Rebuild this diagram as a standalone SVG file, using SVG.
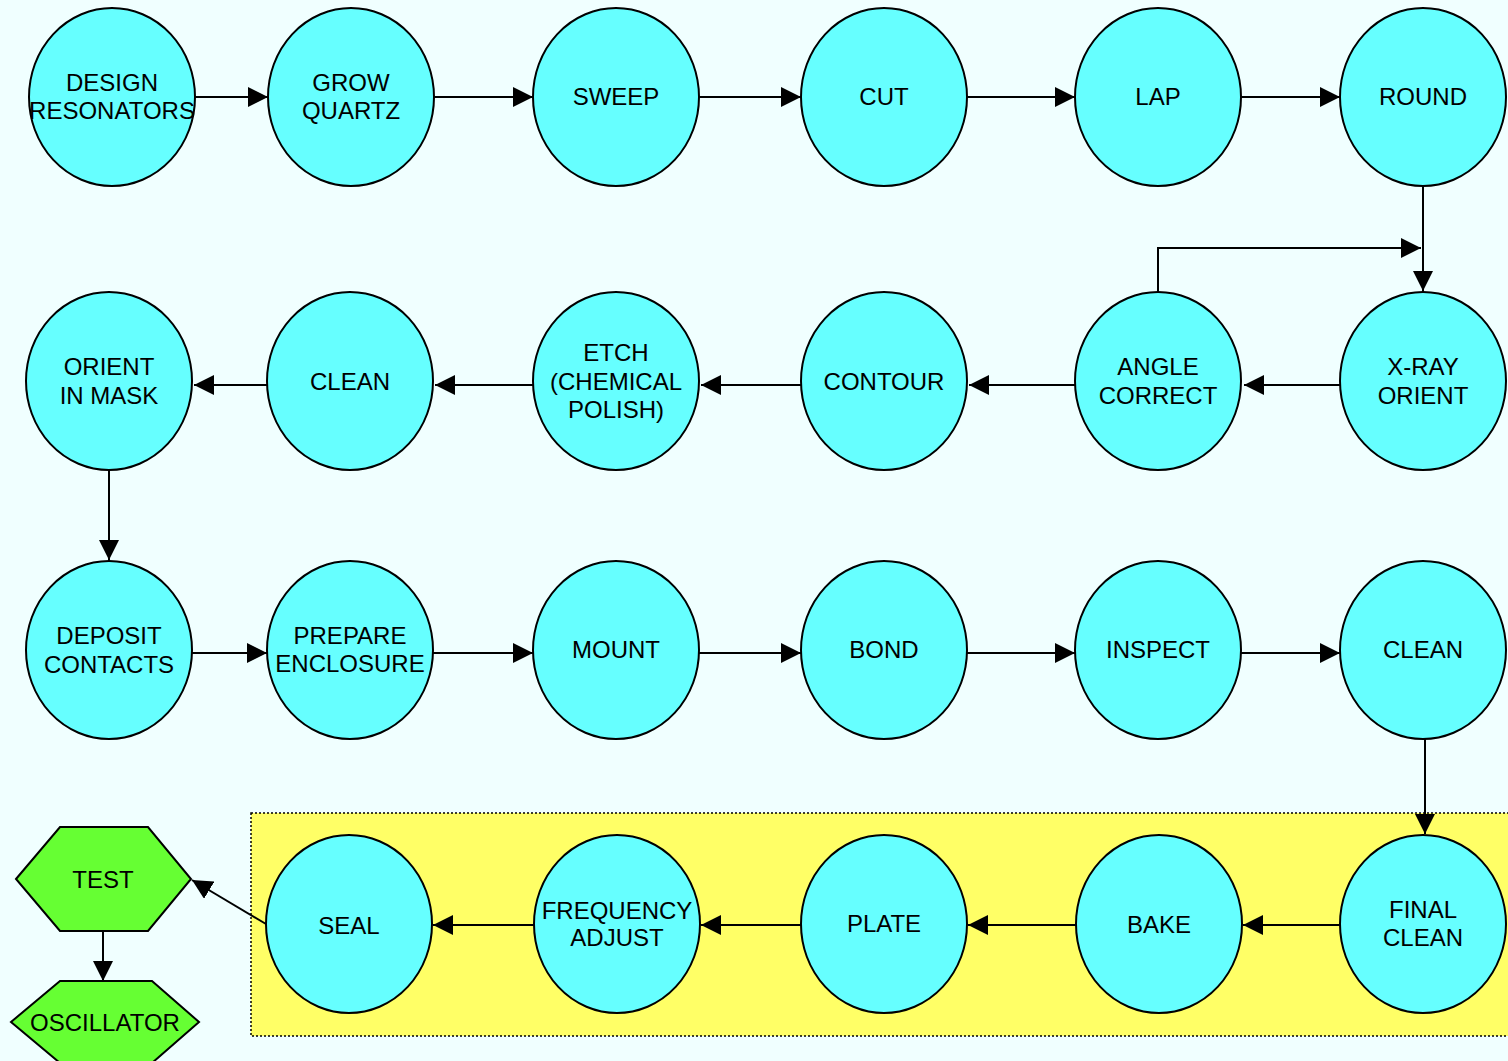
<svg xmlns="http://www.w3.org/2000/svg" width="1508" height="1061" viewBox="0 0 1508 1061">
<defs>
<marker id="ah" viewBox="0 0 20 20" refX="20" refY="10" markerWidth="20" markerHeight="20" markerUnits="userSpaceOnUse" orient="auto">
<path d="M0,0 L20,10 L0,20 Z" fill="#000"/>
</marker>
<style>
.n{fill:#66FFFF;stroke:#000;stroke-width:2}
.h{fill:#66FF33;stroke:#000;stroke-width:2}
.t{font-family:"Liberation Sans",Arial,sans-serif;font-size:24px;fill:#000;text-anchor:middle}
.c{fill:none;stroke:#000;stroke-width:2;marker-end:url(#ah)}
</style>
</defs>
<rect width="1508" height="1061" fill="#F0FFFF"/>
<rect x="251" y="813" width="1262" height="223" fill="#FFFF66" stroke="#000" stroke-width="1.5" stroke-dasharray="2,2"/>
<g id="connectors">
<path class="c" d="M195,97 H268"/>
<path class="c" d="M434,97 H533"/>
<path class="c" d="M699,97 H801"/>
<path class="c" d="M967,97 H1075"/>
<path class="c" d="M1241,97 H1340"/>
<path class="c" d="M1423,185 V291"/>
<path class="c" d="M1158,292 V248 H1421"/>
<path class="c" d="M1340,385 H1244"/>
<path class="c" d="M1075,385 H969"/>
<path class="c" d="M801,385 H701"/>
<path class="c" d="M533,385 H435"/>
<path class="c" d="M267,385 H194"/>
<path class="c" d="M109,470 V560"/>
<path class="c" d="M192,653 H267"/>
<path class="c" d="M433,653 H533"/>
<path class="c" d="M699,653 H801"/>
<path class="c" d="M967,653 H1075"/>
<path class="c" d="M1241,653 H1340"/>
<path class="c" d="M1425,739 V834"/>
<path class="c" d="M1340,925 H1243"/>
<path class="c" d="M1076,925 H968"/>
<path class="c" d="M801,925 H701"/>
<path class="c" d="M534,925 H433"/>
<path class="c" d="M266,924 L192,880"/>
<path class="c" d="M103,931 V981"/>
</g>
<g id="design"><ellipse class="n" cx="112" cy="97" rx="83" ry="89"/><text class="t" x="112" y="91">DESIGN</text><text class="t" x="112" y="119">RESONATORS</text></g>
<g id="grow"><ellipse class="n" cx="351" cy="97" rx="83" ry="89"/><text class="t" x="351" y="91">GROW</text><text class="t" x="351" y="119">QUARTZ</text></g>
<g id="sweep"><ellipse class="n" cx="616" cy="97" rx="83" ry="89"/><text class="t" x="616" y="105">SWEEP</text></g>
<g id="cut"><ellipse class="n" cx="884" cy="97" rx="83" ry="89"/><text class="t" x="884" y="105">CUT</text></g>
<g id="lap"><ellipse class="n" cx="1158" cy="97" rx="83" ry="89"/><text class="t" x="1158" y="105">LAP</text></g>
<g id="round"><ellipse class="n" cx="1423" cy="97" rx="83" ry="89"/><text class="t" x="1423" y="105">ROUND</text></g>
<g id="orient"><ellipse class="n" cx="109" cy="381" rx="83" ry="89"/><text class="t" x="109" y="375">ORIENT</text><text class="t" x="109" y="404">IN MASK</text></g>
<g id="clean1"><ellipse class="n" cx="350" cy="381" rx="83" ry="89"/><text class="t" x="350" y="390">CLEAN</text></g>
<g id="etch"><ellipse class="n" cx="616" cy="381" rx="83" ry="89"/><text class="t" x="616" y="361">ETCH</text><text class="t" x="616" y="390">(CHEMICAL</text><text class="t" x="616" y="418">POLISH)</text></g>
<g id="contour"><ellipse class="n" cx="884" cy="381" rx="83" ry="89"/><text class="t" x="884" y="390">CONTOUR</text></g>
<g id="angle"><ellipse class="n" cx="1158" cy="381" rx="83" ry="89"/><text class="t" x="1158" y="375">ANGLE</text><text class="t" x="1158" y="404">CORRECT</text></g>
<g id="xray"><ellipse class="n" cx="1423" cy="381" rx="83" ry="89"/><text class="t" x="1423" y="375">X-RAY</text><text class="t" x="1423" y="404">ORIENT</text></g>
<g id="deposit"><ellipse class="n" cx="109" cy="650" rx="83" ry="89"/><text class="t" x="109" y="644">DEPOSIT</text><text class="t" x="109" y="673">CONTACTS</text></g>
<g id="prepare"><ellipse class="n" cx="350" cy="650" rx="83" ry="89"/><text class="t" x="350" y="644">PREPARE</text><text class="t" x="350" y="672">ENCLOSURE</text></g>
<g id="mount"><ellipse class="n" cx="616" cy="650" rx="83" ry="89"/><text class="t" x="616" y="658">MOUNT</text></g>
<g id="bond"><ellipse class="n" cx="884" cy="650" rx="83" ry="89"/><text class="t" x="884" y="658">BOND</text></g>
<g id="inspect"><ellipse class="n" cx="1158" cy="650" rx="83" ry="89"/><text class="t" x="1158" y="658">INSPECT</text></g>
<g id="clean2"><ellipse class="n" cx="1423" cy="650" rx="83" ry="89"/><text class="t" x="1423" y="658">CLEAN</text></g>
<g id="seal"><ellipse class="n" cx="349" cy="924" rx="83" ry="89"/><text class="t" x="349" y="934">SEAL</text></g>
<g id="freq"><ellipse class="n" cx="617" cy="924" rx="83" ry="89"/><text class="t" x="617" y="919">FREQUENCY</text><text class="t" x="617" y="946">ADJUST</text></g>
<g id="plate"><ellipse class="n" cx="884" cy="924" rx="83" ry="89"/><text class="t" x="884" y="932">PLATE</text></g>
<g id="bake"><ellipse class="n" cx="1159" cy="924" rx="83" ry="89"/><text class="t" x="1159" y="933">BAKE</text></g>
<g id="final"><ellipse class="n" cx="1423" cy="924" rx="83" ry="89"/><text class="t" x="1423" y="918">FINAL</text><text class="t" x="1423" y="946">CLEAN</text></g>
<g id="test"><polygon class="h" points="16,879 60,827 148,827 191,879 148,931 60,931"/><text class="t" x="103" y="888">TEST</text></g>
<g id="oscillator"><polygon class="h" points="11,1022 60,981 152,981 199,1022 152,1063 60,1063"/><text class="t" x="105" y="1031">OSCILLATOR</text></g>
</svg>
